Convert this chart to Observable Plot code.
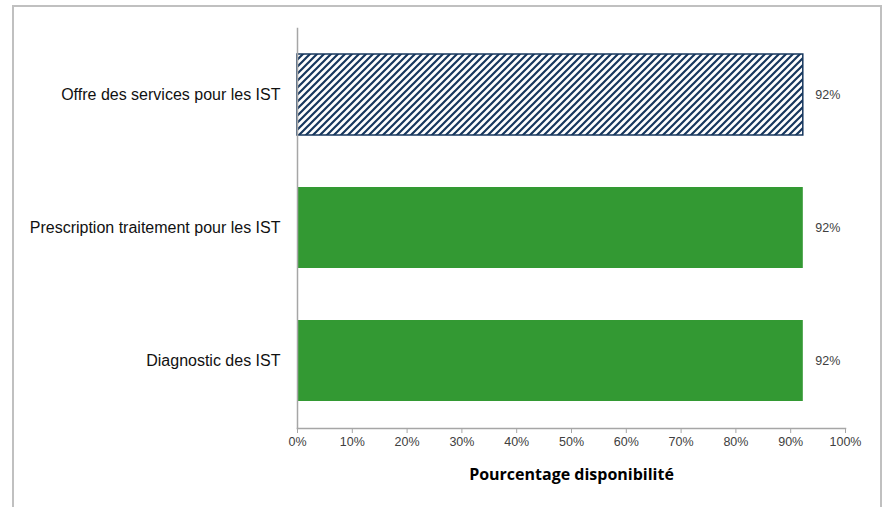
<!DOCTYPE html>
<html>
<head>
<meta charset="utf-8">
<script src="https://cdn.jsdelivr.net/npm/d3@7"></script>
<script src="https://cdn.jsdelivr.net/npm/@observablehq/plot@0.6"></script>
<style>
  html, body { margin: 0; padding: 0; background: #fff; }
  #wrap { position: relative; width: 890px; height: 507px; overflow: hidden; }
  #border { position: absolute; left: 12px; top: 5px; width: 870px; height: 540px; border: 2px solid #c0c0c0; box-sizing: border-box; pointer-events: none; }
</style>
</head>
<body>
<div id="wrap"><div id="border"></div><div id="chart"></div></div>
<script>
const categories = ["Offre des services pour les IST", "Prescription traitement pour les IST", "Diagnostic des IST"];
const values = [0.923, 0.923, 0.923];
const valueLabels = ["92%", "92%", "92%"];
const xTicks = [0, 0.1, 0.2, 0.3, 0.4, 0.5, 0.6, 0.7, 0.8, 0.9, 1.0];
const xLabel = "Pourcentage disponibilité";

const data = categories.map((c, i) => ({category: c, value: values[i], label: valueLabels[i], hatched: i === 0}));

const chart = Plot.plot({
  width: 890,
  height: 507,
  marginLeft: 297,
  marginRight: 45,
  marginTop: 28,
  marginBottom: 79,
  style: { fontFamily: "'Liberation Sans', Arial, sans-serif", fontSize: "12px", color: "#404040", background: "transparent" },
  x: { domain: [0, 1], ticks: xTicks, tickFormat: d3.format(".0%"), tickSize: 5, label: null },
  y: { domain: categories, paddingInner: 0.39, paddingOuter: 0.195, label: null, tickSize: 0, tickPadding: 17 },
  marks: [
    Plot.barX(data, {
      y: "category", x: "value",
      fill: d => d.hatched ? "url(#hatch)" : "#339933",
      stroke: d => d.hatched ? "#17375e" : "none",
      strokeWidth: 1.5
    }),
    Plot.text(data, { y: "category", x: "value", text: "label", textAnchor: "start", dx: 12, fontSize: 12.5, fill: "#404040" }),
    Plot.text([xLabel], { text: d => d, frameAnchor: "bottom", dy: 51, fontSize: 16, fontWeight: "bold", fontFamily: "'Open Sans', sans-serif", fill: "#000" }),
    Plot.frame({ anchor: "left", stroke: "#a6a6a6", strokeWidth: 1.5 }),
    Plot.frame({ anchor: "bottom", stroke: "#a6a6a6", strokeWidth: 1.5 })
  ]
});

// hatch pattern definition
const svg = d3.select(chart);
const defs = svg.insert("defs", ":first-child");
const pat = defs.append("pattern")
  .attr("id", "hatch").attr("patternUnits", "userSpaceOnUse")
  .attr("width", 7).attr("height", 7);
pat.append("rect").attr("width", 7).attr("height", 7).attr("fill", "#fff");
pat.append("path").attr("d", "M-1,1 l2,-2 M0,7 l7,-7 M6,8 l2,-2")
  .attr("stroke", "#17375e").attr("stroke-width", 2.2);

svg.selectAll('g[aria-label="y-axis tick label"] text').style("font-size", "16px").style("fill", "#111");
svg.selectAll('g[aria-label="x-axis tick label"] text').style("fill", "#404040").style("font-size", "12.5px");
svg.selectAll('g[aria-label="x-axis tick"] path').attr("stroke", "#a6a6a6");

document.getElementById("chart").appendChild(chart);
</script>
</body>
</html>
